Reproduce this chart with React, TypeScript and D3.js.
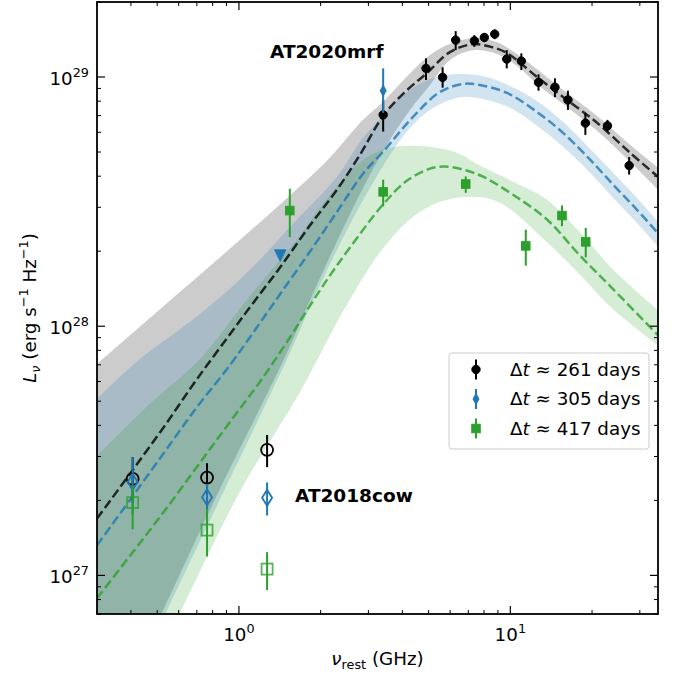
import React from "react";
import * as d3 from "d3";

// ---------- axis ranges ----------
const xDomain: [number, number] = [0.3, 35];
const yDomain: [number, number] = [7e26, 2e29];
const xMajorTicks = [1, 10];
const yMajorTicks = [1e27, 1e28, 1e29];
const xTickExp = ["0", "1"];
const yTickExp = ["27", "28", "29"];

// ---------- AT2020mrf, Δt≈261 d (black) ----------
const mrf261Freq = [3.40, 4.89, 5.63, 6.29, 7.37, 8.02, 8.76, 9.70, 10.98, 12.7, 14.6, 16.3, 18.9, 22.8, 27.4];
const mrf261Lum = [7.05e28, 1.083e29, 9.97e28, 1.406e29, 1.397e29, 1.441e29, 1.486e29, 1.18e29, 1.159e29, 9.52e28, 9.10e28, 8.09e28, 6.53e28, 6.37e28, 4.41e28];
const mrf261Hi = [8.09e28, 1.188e29, 1.094e29, 1.528e29, 1.472e29, 1.50e29, 1.552e29, 1.282e29, 1.244e29, 1.025e29, 9.88e28, 8.81e28, 7.16e28, 6.73e28, 4.77e28];
const mrf261Lo = [6.04e28, 9.73e28, 9.06e28, 1.282e29, 1.322e29, 1.38e29, 1.419e29, 1.083e29, 1.067e29, 8.81e28, 8.30e28, 7.38e28, 5.86e28, 6.04e28, 4.06e28];

// ---------- AT2020mrf, Δt≈305 d (blue) ----------
const mrf305Freq = [3.40];
const mrf305Lum = [8.81e28];
const mrf305Hi = [1.083e29];
const mrf305Lo = [7.18e28];
const mrf305LimFreq = [1.42];
const mrf305LimLum = [1.92e28];

// ---------- AT2020mrf, Δt≈417 d (green) ----------
const mrf417Freq = [1.54, 3.40, 6.85, 11.4, 15.5, 18.96];
const mrf417Lum = [2.91e28, 3.46e28, 3.72e28, 2.10e28, 2.78e28, 2.18e28];
const mrf417Hi = [3.56e28, 3.87e28, 3.99e28, 2.44e28, 3.05e28, 2.48e28];
const mrf417Lo = [2.28e28, 3.03e28, 3.43e28, 1.75e28, 2.52e28, 1.89e28];

// ---------- AT2018cow (open markers) ----------
const cowFreq = [0.406, 0.763, 1.27];
const cow261Lum = [2.44e27, 2.47e27, 3.19e27];
const cow261Hi = [2.98e27, 2.82e27, 3.66e27];
const cow261Lo = [1.95e27, 2.12e27, 2.72e27];
const cow305Lum = [2.37e27, 2.06e27, 2.05e27];
const cow305Hi = [2.98e27, 2.33e27, 2.36e27];
const cow305Lo = [1.76e27, 1.82e27, 1.74e27];
const cow417Lum = [1.96e27, 1.52e27, 1.06e27];
const cow417Hi = [2.30e27, 1.85e27, 1.24e27];
const cow417Lo = [1.53e27, 1.19e27, 8.73e26];

// ---------- model curves ----------
const model261Freq = [0.3, 0.397, 0.529, 0.701, 0.927, 1.136, 1.417, 1.828, 2.298, 2.794, 3.42, 4.093, 4.933, 5.99, 7.287, 8.42, 9.724, 12.54, 15.64, 20.87, 27.6, 35];
const model261Lum = [1.69e27, 2.56e27, 3.94e27, 6.14e27, 9.29e27, 1.252e28, 1.72e28, 2.54e28, 3.53e28, 4.88e28, 7.05e28, 8.71e28, 1.038e29, 1.259e29, 1.355e29, 1.324e29, 1.247e29, 1.0e29, 8.32e28, 6.55e28, 4.97e28, 3.98e28];
const model305Freq = [0.3, 0.397, 0.529, 0.701, 0.927, 1.166, 1.417, 1.828, 2.298, 2.866, 3.396, 4.379, 5.508, 6.697, 7.731, 9.724, 12.54, 15.64, 19.67, 23.9, 28.8, 35];
const model305Lum = [1.32e27, 2.01e27, 3.10e27, 4.74e27, 6.98e27, 9.91e27, 1.343e28, 1.995e28, 2.88e28, 4.09e28, 5.01e28, 6.92e28, 8.71e28, 9.38e28, 9.29e28, 8.63e28, 7.24e28, 5.97e28, 4.66e28, 3.70e28, 2.99e28, 2.36e28];
const model417Freq = [0.3, 0.397, 0.529, 0.701, 0.927, 1.237, 1.543, 1.828, 2.166, 2.566, 3.396, 4.163, 5.06, 5.745, 6.697, 7.931, 10.23, 13.65, 18.06, 23.9, 35];
const model417Lum = [8.09e26, 1.20e27, 1.80e27, 2.73e27, 4.13e27, 6.31e27, 9.04e27, 1.21e28, 1.60e28, 2.07e28, 3.08e28, 3.84e28, 4.29e28, 4.37e28, 4.25e28, 3.98e28, 3.37e28, 2.68e28, 1.92e28, 1.41e28, 9.2e27];

// ---------- model uncertainty bands ----------
const band261UpFreq = [0.3, 0.512, 0.852, 1.417, 1.99, 2.298, 2.866, 3.396, 3.826, 4.933, 5.844, 7.287, 8.933, 10.58, 15.64, 20.87, 27.6, 35];
const band261UpLum = [7.05e27, 1.17e28, 1.89e28, 3.08e28, 4.33e28, 5.11e28, 6.73e28, 7.94e28, 9.12e28, 1.20e29, 1.343e29, 1.432e29, 1.38e29, 1.236e29, 8.87e28, 6.98e28, 5.35e28, 4.33e28];
const band261LoFreq = [0.3, 0.521, 0.852, 1.466, 1.907, 2.459, 3.042, 3.604, 4.269, 5.06, 5.99, 7.287, 8.933, 10.58, 12.54, 15.64, 20.87, 27.6, 35];
const band261LoLum = [2.03e26, 7.11e26, 2.23e27, 7.38e27, 1.41e28, 2.56e28, 4.06e28, 5.60e28, 7.38e28, 9.29e28, 1.17e29, 1.28e29, 1.236e29, 1.107e29, 9.38e28, 7.80e28, 6.08e28, 4.57e28, 3.53e28];

const band305UpFreq = [0.3, 0.432, 0.701, 1.071, 1.637, 2.298, 2.866, 3.396, 3.826, 4.77, 5.844, 6.697, 8.204, 9.974, 12.54, 15.64, 19.67, 23.9, 28.8, 35];
const band305UpLum = [5.11e27, 7.38e27, 1.096e28, 1.64e28, 2.68e28, 3.98e28, 5.70e28, 6.98e28, 8.09e28, 9.55e28, 1.019e29, 1.028e29, 1.0e29, 9.20e28, 8.02e28, 6.61e28, 5.15e28, 4.13e28, 3.34e28, 2.63e28];
const band305LoFreq = [0.3, 0.539, 0.889, 1.504, 1.956, 2.502, 3.093, 3.666, 4.269, 5.06, 5.99, 6.697, 8.204, 9.974, 12.54, 15.64, 19.67, 23.9, 28.8, 35];
const band305LoLum = [1.85e26, 7.11e26, 2.23e27, 7.38e27, 1.41e28, 2.44e28, 3.70e28, 5.01e28, 6.25e28, 7.38e28, 8.09e28, 8.32e28, 8.09e28, 7.52e28, 6.37e28, 5.25e28, 4.13e28, 3.28e28, 2.65e28, 2.09e28];

const band417UpFreq = [0.3, 0.47, 0.719, 1.071, 1.637, 2.166, 2.866, 3.604, 4.379, 5.06, 6.364, 7.731, 10.23, 13.65, 18.06, 23.9, 35];
const band417UpLum = [3.02e27, 4.88e27, 7.38e27, 1.28e28, 2.23e28, 3.37e28, 4.66e28, 5.20e28, 5.30e28, 5.25e28, 4.97e28, 4.41e28, 3.80e28, 3.22e28, 2.38e28, 1.69e28, 1.16e28];
const band417LoFreq = [0.3, 0.607, 1.009, 1.679, 2.298, 2.566, 3.309, 4.379, 5.508, 7.287, 9.163, 13.65, 18.06, 23.9, 35];
const band417LoLum = [1.54e26, 7.11e26, 2.17e27, 5.45e27, 1.038e28, 1.28e28, 1.98e28, 2.75e28, 3.16e28, 3.31e28, 3.13e28, 2.17e28, 1.61e28, 1.17e28, 8.39e27];

// ---------- labels ----------
const legendLabels = ["261", "305", "417"];
const BLACK = "#000000";
const BLUE = "#1f77b4";
const GREEN = "#2ca02c";

const FONT = "'DejaVu Sans', Verdana, sans-serif";
const FS = 18.3;

const M = { left: 97, right: 658, top: 2, bottom: 614 };

const zip = (a: number[], b: number[]) => a.map((v, i) => [v, b[i]] as [number, number]);

function Marker({ kind, cx, cy, color, open }: { kind: string; cx: number; cy: number; color: string; open?: boolean }) {
  const fill = open ? "none" : color;
  const stroke = color;
  const sw = open ? 1.8 : 1;
  if (kind === "o") {
    const r = open ? 6 : 4.2;
    return <circle cx={cx} cy={cy} r={r} fill={fill} stroke={stroke} strokeWidth={sw} />;
  }
  if (kind === "d") {
    const w = open ? 5 : 3;
    const h = open ? 8 : 5.5;
    return <path d={`M${cx},${cy - h}L${cx + w},${cy}L${cx},${cy + h}L${cx - w},${cy}Z`} fill={fill} stroke={stroke} strokeWidth={sw} />;
  }
  if (kind === "s") {
    const s = open ? 11 : 8.5;
    return <rect x={cx - s / 2} y={cy - s / 2} width={s} height={s} fill={fill} stroke={stroke} strokeWidth={sw} strokeOpacity={open ? 0.8 : 1} />;
  }
  if (kind === "v") {
    const w = 5.8;
    return <path d={`M${cx - w},${cy - w}L${cx + w},${cy - w}L${cx},${cy + w}Z`} fill={fill} stroke={stroke} strokeWidth={0.8} />;
  }
  return null;
}

export default function App() {
  const x = d3.scaleLog().domain(xDomain).range([M.left, M.right]);
  const y = d3.scaleLog().domain(yDomain).range([M.bottom, M.top]);

  const line = d3
    .line<[number, number]>()
    .x((d) => x(d[0]))
    .y((d) => y(d[1]))
    .curve(d3.curveCatmullRom.alpha(0.5));

  const bandPath = (uf: number[], ul: number[], lf: number[], ll: number[]) => {
    const a = line(zip(uf, ul)) as string;
    const b = line(zip(lf, ll).reverse()) as string;
    return a + "L" + b.slice(1) + "Z";
  };

  const xMinor = x.ticks().filter((t) => !xMajorTicks.some((m) => Math.abs(m - t) / m < 1e-6));
  const yMinor = y.ticks().filter((t) => !yMajorTicks.some((m) => Math.abs(m - t) / m < 1e-6));

  const errSeries = (
    freq: number[], lum: number[], lo: number[], hi: number[], color: string, kind: string, open: boolean, key: string
  ) =>
    freq.map((f, i) => (
      <g key={key + i}>
        <line x1={x(f)} x2={x(f)} y1={y(lo[i])} y2={y(hi[i])} stroke={color} strokeWidth={2} />
        <Marker kind={kind} cx={x(f)} cy={y(lum[i])} color={color} open={open} />
      </g>
    ));

  const legendRows = [
    { color: BLACK, kind: "o", label: legendLabels[0] },
    { color: BLUE, kind: "d", label: legendLabels[1] },
    { color: GREEN, kind: "s", label: legendLabels[2] },
  ];

  const supSize = FS * 0.7;

  return (
    <svg width={680} height={677} style={{ position: "absolute", left: 0, top: 0, display: "block" }} fontFamily={FONT}>
      <rect x={0} y={0} width={680} height={677} fill="#ffffff" />
      <defs>
        <clipPath id="plotclip">
          <rect x={M.left} y={M.top} width={M.right - M.left} height={M.bottom - M.top} />
        </clipPath>
      </defs>

      <g clipPath="url(#plotclip)">
        {/* bands */}
        <path d={bandPath(band261UpFreq, band261UpLum, band261LoFreq, band261LoLum)} fill="#000000" fillOpacity={0.2} />
        <path d={bandPath(band305UpFreq, band305UpLum, band305LoFreq, band305LoLum)} fill={BLUE} fillOpacity={0.2} />
        <path d={bandPath(band417UpFreq, band417UpLum, band417LoFreq, band417LoLum)} fill={GREEN} fillOpacity={0.2} />
        {/* model lines */}
        <path d={line(zip(model261Freq, model261Lum)) as string} fill="none" stroke="#000000" strokeOpacity={0.8} strokeWidth={2.5} strokeDasharray="9.25 4" />
        <path d={line(zip(model305Freq, model305Lum)) as string} fill="none" stroke={BLUE} strokeOpacity={0.8} strokeWidth={2.5} strokeDasharray="9.25 4" />
        <path d={line(zip(model417Freq, model417Lum)) as string} fill="none" stroke={GREEN} strokeOpacity={0.8} strokeWidth={2.5} strokeDasharray="9.25 4" />

        {/* AT2018cow */}
        {errSeries(cowFreq, cow261Lum, cow261Lo, cow261Hi, BLACK, "o", true, "c261")}
        {errSeries(cowFreq, cow305Lum, cow305Lo, cow305Hi, BLUE, "d", true, "c305")}
        {errSeries(cowFreq, cow417Lum, cow417Lo, cow417Hi, GREEN, "s", true, "c417")}

        {/* AT2020mrf */}
        {errSeries(mrf261Freq, mrf261Lum, mrf261Lo, mrf261Hi, BLACK, "o", false, "m261")}
        {errSeries(mrf305Freq, mrf305Lum, mrf305Lo, mrf305Hi, BLUE, "d", false, "m305")}
        {mrf305LimFreq.map((f, i) => (
          <Marker key={"lim" + i} kind="v" cx={x(f)} cy={y(mrf305LimLum[i])} color={BLUE} />
        ))}
        {errSeries(mrf417Freq, mrf417Lum, mrf417Lo, mrf417Hi, GREEN, "s", false, "m417")}
      </g>

      {/* annotations */}
      <text x={270} y={57.5} fontSize={18.5} fontWeight="bold">AT2020mrf</text>
      <text x={295} y={502} fontSize={18.5} fontWeight="bold">AT2018cow</text>

      {/* legend */}
      <g>
        <rect x={449} y={353} width={200} height={96} rx={3} fill="#ffffff" fillOpacity={0.8} stroke="#cccccc" strokeWidth={1} />
        {legendRows.map((r, i) => {
          const cy = 369.5 + i * 29.5;
          return (
            <g key={"lg" + i}>
              <line x1={476} x2={476} y1={cy - 10} y2={cy + 10} stroke={r.color} strokeWidth={2} />
              <Marker kind={r.kind} cx={476} cy={cy} color={r.color} />
              <text x={510} y={cy + 6.3} fontSize={FS}>
                <tspan>Δ</tspan>
                <tspan fontStyle="italic">t</tspan>
                <tspan> ≈ {r.label} days</tspan>
              </text>
            </g>
          );
        })}
      </g>

      {/* frame */}
      <rect x={M.left} y={M.top} width={M.right - M.left} height={M.bottom - M.top} fill="none" stroke="#000" strokeWidth={1.8} />

      {/* ticks */}
      {xMajorTicks.map((t) => (
        <g key={"xM" + t}>
          <line x1={x(t)} x2={x(t)} y1={M.bottom} y2={M.bottom - 8} stroke="#000" strokeWidth={1.2} />
          <line x1={x(t)} x2={x(t)} y1={M.top} y2={M.top + 8} stroke="#000" strokeWidth={1.2} />
        </g>
      ))}
      {xMinor.map((t) => (
        <g key={"xm" + t}>
          <line x1={x(t)} x2={x(t)} y1={M.bottom} y2={M.bottom - 4} stroke="#000" strokeWidth={1} />
          <line x1={x(t)} x2={x(t)} y1={M.top} y2={M.top + 4} stroke="#000" strokeWidth={1} />
        </g>
      ))}
      {yMajorTicks.map((t) => (
        <g key={"yM" + t}>
          <line x1={M.left} x2={M.left + 8} y1={y(t)} y2={y(t)} stroke="#000" strokeWidth={1.2} />
          <line x1={M.right} x2={M.right - 8} y1={y(t)} y2={y(t)} stroke="#000" strokeWidth={1.2} />
        </g>
      ))}
      {yMinor.map((t) => (
        <g key={"ym" + t}>
          <line x1={M.left} x2={M.left + 4} y1={y(t)} y2={y(t)} stroke="#000" strokeWidth={1} />
          <line x1={M.right} x2={M.right - 4} y1={y(t)} y2={y(t)} stroke="#000" strokeWidth={1} />
        </g>
      ))}

      {/* tick labels */}
      {xMajorTicks.map((t, i) => (
        <text key={"xl" + t} x={x(t)} y={641} fontSize={FS} textAnchor="middle">
          10<tspan fontSize={supSize} dy={-8}>{xTickExp[i]}</tspan>
        </text>
      ))}
      {yMajorTicks.map((t, i) => (
        <text key={"yl" + t} x={89} y={y(t) + 7.5} fontSize={FS} textAnchor="end">
          10<tspan fontSize={supSize} dy={-8}>{yTickExp[i]}</tspan>
        </text>
      ))}

      {/* axis labels */}
      <text x={(M.left + M.right) / 2} y={665} fontSize={FS} textAnchor="middle">
        <tspan fontStyle="italic">ν</tspan>
        <tspan fontSize={supSize} dy={4}>rest</tspan>
        <tspan dy={-4}> (GHz)</tspan>
      </text>
      <text transform={`translate(36,${(M.top + M.bottom) / 2}) rotate(-90)`} fontSize={FS} textAnchor="middle">
        <tspan fontStyle="italic">L</tspan>
        <tspan fontStyle="italic" fontSize={supSize} dy={4}>ν</tspan>
        <tspan dy={-4}> (erg s</tspan>
        <tspan fontSize={supSize} dy={-8}>−1</tspan>
        <tspan dy={8}> Hz</tspan>
        <tspan fontSize={supSize} dy={-8}>−1</tspan>
        <tspan dy={8}>)</tspan>
      </text>
    </svg>
  );
}
